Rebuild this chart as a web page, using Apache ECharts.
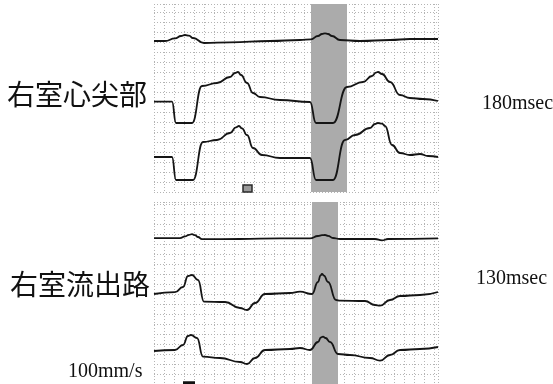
<!DOCTYPE html>
<html>
<head>
<meta charset="utf-8">
<script src="https://cdn.jsdelivr.net/npm/echarts@6/dist/echarts.min.js"></script>
<style>
  html, body { margin: 0; padding: 0; background: #fff; }
  #chart { width: 553px; height: 384px; }
</style>
</head>
<body>
<div id="chart"></div>
<script>
// Time axis in ms (paper speed 100 mm/s), amplitude in mm above the panel floor.
const timeRange = [0, 1420];

// Right-ventricular apex recording (upper panel)
const apexSurface = [[0,75.5],[55,75.5],[105,76.8],[135,78],[155,78.5],[175,78.2],[195,77],[250,74.5],[380,74.8],[580,75.5],[730,76],[785,76.3],[820,78],[840,79],[855,79.3],[870,79],[890,78],[930,76],[1030,75.5],[1180,76],[1280,76.5],[1420,76.5]];
const apexUnipolar1 = [[0,45.2],[90,45.2],[110,34.5],[190,34.5],[240,53],[315,54.5],[380,57.5],[405,59.5],[420,60],[435,58.5],[465,54.5],[495,49.5],[530,47.5],[630,46],[780,45],[810,34.5],[895,34.5],[965,52.5],[1045,55],[1090,58],[1110,59.7],[1120,60],[1140,59],[1180,55],[1230,48.5],[1280,47],[1345,46.5],[1420,45.5]];
const apexUnipolar2 = [[0,17.5],[90,17.5],[110,6],[195,6],[245,25],[315,26],[380,29.5],[410,32.3],[425,33],[440,31.8],[465,28.5],[495,22],[540,18.5],[630,17],[780,17],[810,6],[895,6],[955,26],[1005,28.5],[1080,32],[1105,34],[1120,34.5],[1140,34.2],[1155,33],[1190,23.5],[1230,19.5],[1280,18.5],[1330,19],[1370,18],[1420,17.5]];
const apexInterval = [785, 965];      // 180 msec
const apexCalMark = [[445, 0], [490, 3.5]];

// Right-ventricular outflow tract recording (lower panel)
const rvotSurface = [[0,72.9],[130,72.9],[155,73.8],[175,74.6],[190,74.9],[205,74.4],[220,73.5],[240,72.4],[430,72.5],[630,72.8],[780,72.8],[820,74],[840,74.4],[855,74.5],[870,74.1],[895,73],[930,72.5],[1105,72.5],[1140,71.8],[1170,72.5],[1420,72.8]];
const rvotUnipolar1 = [[0,45],[105,45.9],[145,48.5],[170,54],[190,54.5],[220,52],[250,41.2],[355,41],[430,38],[465,37],[505,40.5],[555,45],[680,45.5],[730,46.2],[790,45],[820,51],[833,54.3],[840,55],[850,54.2],[870,51],[910,42],[930,41.7],[1055,41.5],[1105,39.5],[1130,39.2],[1180,42],[1230,44],[1330,44.5],[1420,46]];
const rvotUnipolar2 = [[0,16.5],[105,17],[145,19.5],[170,24],[185,24.5],[215,23],[245,13.7],[330,13],[430,11],[465,10],[505,13],[555,17],[680,17.5],[730,18],[780,17],[820,21],[835,23.3],[845,23.7],[858,23],[880,21],[920,15],[980,14.5],[1080,13],[1130,11.7],[1180,14.5],[1230,17],[1330,17.5],[1420,18.5]];
const rvotInterval = [790, 920];      // 130 msec
const timeScaleBar = [[145, 0.6], [205, 0.6]];

const panelLabels = ['右室心尖部', '右室流出路'];
const intervalLabels = ['180msec', '130msec'];
const speedLabel = '100mm/s';

const gridLine = { show: true, lineStyle: { color: '#b4b4b4', type: [1, 2], width: 1 } };

function timeAxis(gi) {
  return {
    type: 'value', gridIndex: gi, min: timeRange[0], max: timeRange[1], interval: 50,
    axisLine: { show: false }, axisTick: { show: false }, axisLabel: { show: false },
    splitLine: gridLine
  };
}
function ampAxis(gi, max) {
  return {
    type: 'value', gridIndex: gi, min: 0, max: max, interval: 5,
    axisLine: { show: false }, axisTick: { show: false }, axisLabel: { show: false },
    splitLine: gridLine
  };
}
function trace(gi, data) {
  return {
    type: 'line', xAxisIndex: gi, yAxisIndex: gi, data: data, symbol: 'none',
    smooth: 0.5, smoothMonotone: 'x', z: 5, silent: true,
    lineStyle: { color: '#151515', width: 1.8 }
  };
}
function band(gi, range) {
  return {
    type: 'line', xAxisIndex: gi, yAxisIndex: gi, data: [], z: 2, silent: true,
    markArea: {
      silent: true,
      itemStyle: { color: '#ababab' },
      data: [[{ xAxis: range[0] }, { xAxis: range[1] }]]
    }
  };
}

const chart = echarts.init(document.getElementById('chart'), null, { renderer: 'canvas' });

chart.setOption({
  animation: false,
  backgroundColor: '#ffffff',
  grid: [
    { left: 154, top: 4, width: 284, height: 188 },
    { left: 154, top: 202, width: 284, height: 182 }
  ],
  xAxis: [timeAxis(0), timeAxis(1)],
  yAxis: [ampAxis(0, 94), ampAxis(1, 91)],
  series: [
    band(0, apexInterval),
    band(1, rvotInterval),
    trace(0, apexSurface),
    trace(0, apexUnipolar1),
    trace(0, apexUnipolar2),
    trace(1, rvotSurface),
    trace(1, rvotUnipolar1),
    trace(1, rvotUnipolar2),
    {
      type: 'line', xAxisIndex: 0, yAxisIndex: 0, data: [], z: 6, silent: true,
      markArea: {
        silent: true,
        itemStyle: { color: '#9a9a9a', borderColor: '#2a2a2a', borderWidth: 1.5 },
        data: [[{ coord: apexCalMark[0] }, { coord: apexCalMark[1] }]]
      }
    },
    {
      type: 'line', xAxisIndex: 1, yAxisIndex: 1, data: timeScaleBar, symbol: 'none', z: 6, silent: true,
      lineStyle: { color: '#111', width: 3 }
    }
  ],
  graphic: [
    { type: 'text', left: 7, top: 80, style: { text: panelLabels[0], font: '28px "Noto Sans CJK JP"', fill: '#111' } },
    { type: 'text', left: 10, top: 270, style: { text: panelLabels[1], font: '28px "Noto Sans CJK JP"', fill: '#111' } },
    { type: 'text', left: 482, top: 94, style: { text: intervalLabels[0], font: '20px "Liberation Serif"', fill: '#111' } },
    { type: 'text', left: 476, top: 269, style: { text: intervalLabels[1], font: '20px "Liberation Serif"', fill: '#111' } },
    { type: 'text', left: 68, top: 362, style: { text: speedLabel, font: '20px "Liberation Serif"', fill: '#111' } }
  ]
});
</script>
</body>
</html>
